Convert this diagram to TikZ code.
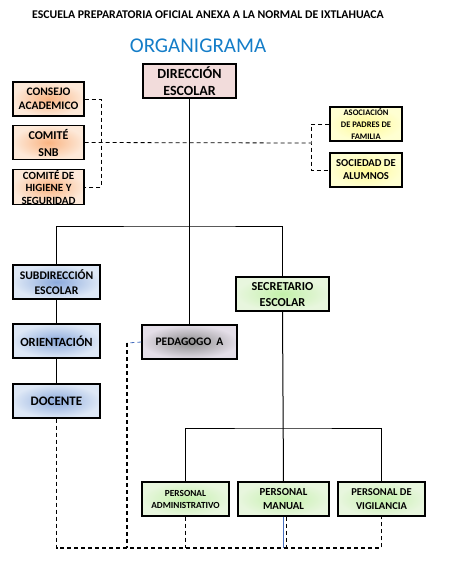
\documentclass[tikz,border=0pt]{standalone}
\usepackage{fontspec}
\setmainfont{Carlito}
\usepackage{tikz}
\usetikzlibrary{positioning,calc}

\definecolor{titleblue}{RGB}{20,125,200}
\definecolor{dirpink}{RGB}{242,220,219}
\definecolor{orout}{RGB}{253,233,217}
\definecolor{orin}{RGB}{250,180,130}
\definecolor{yelout}{RGB}{255,255,210}
\definecolor{yelin}{RGB}{255,250,150}
\definecolor{bluout}{RGB}{222,232,246}
\definecolor{bluin}{RGB}{140,170,220}
\definecolor{grayout}{RGB}{228,222,232}
\definecolor{grayin}{RGB}{140,140,140}
\definecolor{grnout}{RGB}{232,246,222}
\definecolor{grnin}{RGB}{195,240,170}
\definecolor{linkblue}{RGB}{70,110,190}

\newcommand{\fs}[2]{\bfseries\fontsize{#1}{#2}\selectfont}

\tikzset{
    box/.style={draw, line width=1.1pt, align=center, inner sep=0pt, text depth=0pt},
    boss/.style={box, fill=dirpink, minimum width=93pt, minimum height=34pt},
    council/.style={box, inner color=orin, outer color=orout, minimum width=71pt, minimum height=34pt},
    parents/.style={box, inner color=yelin, outer color=yelout, minimum width=72pt, minimum height=34pt},
    staffbox/.style={box, inner color=bluin, outer color=bluout, minimum width=87pt, minimum height=34pt},
    pedbox/.style={box, inner color=grayin, outer color=grayout, minimum width=95pt, minimum height=34pt},
    workbox/.style={box, inner color=grnin, outer color=grnout, minimum height=34pt},
    link/.style={line width=1pt},
    soft/.style={line width=0.8pt, dash pattern=on 4pt off 3pt},
    heavy/.style={line width=1.6pt, dash pattern=on 4pt off 3pt}
}

\begin{document}
\begin{tikzpicture}[x=1pt,y=-1pt]
    \useasboundingbox (0,0) rectangle (451,584);

    % Titles
    \node[font=\fs{11.8}{14}] (school) at (208,15) {ESCUELA PREPARATORIA OFICIAL ANEXA A LA NORMAL DE IXTLAHUACA};
    \node[font=\fontsize{21}{24}\selectfont, text=titleblue] (title) at (198,46) {ORGANIGRAMA};

    % Direction and councils
    \node[boss, font=\fs{14}{17}] (dir) at (189.5,81) {DIRECCIÓN\\ESCOLAR};
    \node[council, font=\fs{11.5}{14}] (consejo) at (48.5,99) {CONSEJO\\ACADEMICO};
    \node[council, font=\fs{12}{17}] (snb) at (48.5,142.5) {COMITÉ\\SNB};
    \node[council, font=\fs{11}{12.5}] (higiene) at (48.5,187) {COMITÉ DE\\HIGIENE Y\\SEGURIDAD};
    \node[parents, font=\fs{8.5}{12}] (asoc) at (366,124) {ASOCIACIÓN\\DE PADRES DE\\FAMILIA};
    \node[parents, font=\fs{10.6}{13}] (soc) at (366,170) {SOCIEDAD DE\\ALUMNOS};

    \coordinate (lbr) at (101,143);
    \coordinate (rbr) at (311,143);
    \draw[soft] (consejo.east) -| (lbr) |- (higiene.east);
    \draw[soft] (snb.east) -- (rbr);
    \draw[soft] (asoc.west) -| (rbr) |- (soc.west);

    % Second level
    \node[staffbox, font=\fs{11.7}{15}] (subdir) at (56.5,282) {SUBDIRECCIÓN\\ESCOLAR};
    \node[staffbox, font=\fs{12.5}{15}] (orient) at (56.5,341) {ORIENTACIÓN};
    \node[staffbox, font=\fs{13}{15}] (docente) at (56.5,401) {DOCENTE};
    \node[pedbox, font=\fs{11.5}{14}] (pedag) at (189.5,342) {PEDAGOGO\ \ A};
    \node[workbox, minimum width=93pt, font=\fs{12.2}{16}] (secre) at (282.5,294) {SECRETARIO\\ESCOLAR};

    \coordinate (bus) at (189.5,226);
    \draw[link] (dir.south) -- (bus);
    \draw[link] (subdir.north) |- (bus) -| (secre.north);
    \draw[link] (bus) -- (pedag.north);
    \draw[link] (subdir) -- (orient);
    \draw[link] (orient) -- (docente);

    % Staff
    \node[workbox, minimum width=87pt, font=\fs{9.3}{12}] (padm) at (185.5,499) {PERSONAL\\ADMINISTRATIVO};
    \node[workbox, minimum width=91pt, font=\fs{10.8}{14}] (pman) at (283.5,499) {PERSONAL\\MANUAL};
    \node[workbox, minimum width=87pt, font=\fs{10.5}{14}] (pvig) at (381.5,499) {PERSONAL DE\\VIGILANCIA};

    \coordinate (bar) at (283,428);
    \draw[link] (secre.south) -- (pman.north);
    \draw[link] (padm.north) |- (bar) -| (pvig.north);

    % Dashed bottom links
    \coordinate (bot) at (283,548);
    \coordinate (pedlink) at (127,343);
    \draw[line width=0.6pt, linkblue] (pman.south) -- (pman.south |- bot);
    \draw[soft, linkblue] (pedag.west) -- (pedlink);
    \draw[heavy] (pedlink) -- (pedlink |- bot);
    \draw[heavy] (docente.south) |- (bot) -| (pvig.south);
    \draw[heavy] (padm.south) -- (padm.south |- bot);
    \draw[heavy] ([xshift=3pt]pman.south) -- ([xshift=3pt]pman.south |- bot);
\end{tikzpicture}
\end{document}
